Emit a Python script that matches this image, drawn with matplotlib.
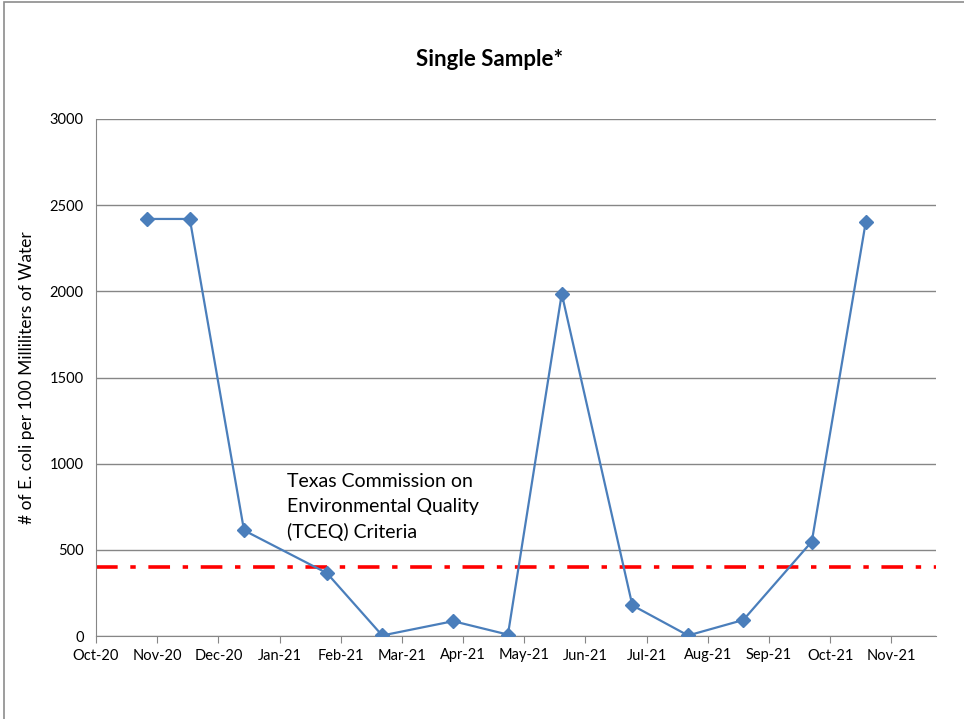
import matplotlib
matplotlib.use('Agg')
import matplotlib.pyplot as plt
from matplotlib.patches import Rectangle

plt.rcParams['font.family'] = ['Lato', 'DejaVu Sans']

# sampling dates and E. coli counts (#/100 mL)
sample_dates = ['2020-10-27', '2020-11-17', '2020-12-14', '2021-01-25', '2021-02-20',
                '2021-03-27', '2021-04-23', '2021-05-20', '2021-06-24', '2021-07-22',
                '2021-08-19', '2021-09-22', '2021-10-19']
ecoli = [2420, 2420, 613, 365, 3, 86, 8, 1986, 178, 3, 93, 548, 2400]

month_labels = ['Oct-20', 'Nov-20', 'Dec-20', 'Jan-21', 'Feb-21', 'Mar-21', 'Apr-21',
                'May-21', 'Jun-21', 'Jul-21', 'Aug-21', 'Sep-21', 'Oct-21', 'Nov-21']
tceq_limit = 399

days_in_month = {1: 31, 2: 28, 3: 31, 4: 30, 5: 31, 6: 30, 7: 31, 8: 31,
                 9: 30, 10: 31, 11: 30, 12: 31}

def month_pos(d):
    y, m, day = [int(p) for p in d.split('-')]
    return (y - 2020) * 12 + (m - 10) + (day - 1) / days_in_month[m]

xs = [month_pos(d) for d in sample_dates]

fig = plt.figure(figsize=(9.64, 7.19), dpi=100)
fig.patches.append(Rectangle((4 / 964, -0.1), 1.2, (719 - 2) / 719 + 0.1,
                             transform=fig.transFigure, fill=False,
                             edgecolor='#8c8c8c', lw=1.2))
ax = fig.add_axes([96 / 964, 83 / 719, 840 / 964, 517 / 719])

ax.plot(xs, ecoli, color='#4a7ebb', lw=1.6, marker='D', ms=7,
        markerfacecolor='#4a7ebb', markeredgecolor='#4a7ebb', zorder=3)
ax.axhline(tceq_limit, color='#ff0000', lw=2.6, dashes=(6, 3.5, 1.5, 3.5), zorder=2)

ax.set_xlim(0, 13.73)
ax.set_ylim(0, 3000)
ax.set_yticks(range(0, 3001, 500))
ax.set_xticks(range(len(month_labels)))
ax.set_xticklabels(month_labels)
ax.grid(axis='y', color='#868686', lw=1)
ax.set_axisbelow(True)
for s in ['top', 'right']:
    ax.spines[s].set_visible(False)
ax.spines['left'].set_color('#868686')
ax.spines['bottom'].set_color('#868686')
ax.tick_params(axis='y', length=0, pad=9, labelsize=10.5)
ax.tick_params(axis='x', length=5, color='#868686', pad=4, labelsize=10.5)

ax.set_ylabel('# of E. coli per 100 Milliliters of Water', fontsize=12.5, labelpad=10)
fig.text(490 / 964, 1 - 60 / 719, 'Single Sample*', ha='center', va='center',
         fontsize=16, fontweight='bold')
ax.text(3.12, 945, 'Texas Commission on\nEnvironmental Quality\n(TCEQ) Criteria',
        ha='left', va='top', fontsize=14, linespacing=1.55)

fig.savefig('out.png', dpi=100)
